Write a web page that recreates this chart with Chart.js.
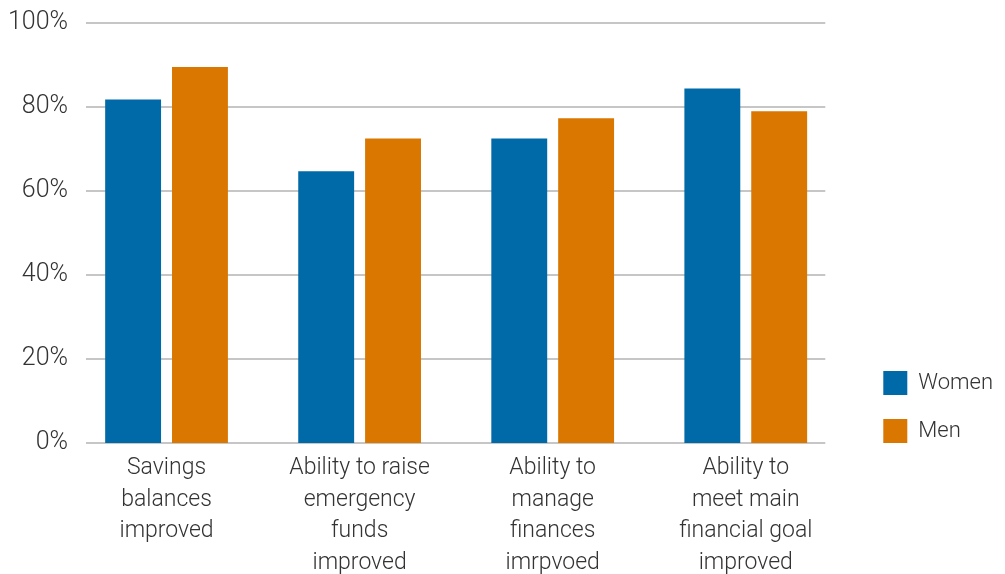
<!DOCTYPE html>
<html>
<head>
<meta charset="utf-8">
<script src="https://cdn.jsdelivr.net/npm/chart.js@4/dist/chart.umd.min.js"></script>
<style>
  body { margin: 0; background: #fff; }
  #wrap { width: 1005px; height: 574px; }
</style>
</head>
<body>
<div id="wrap"><canvas id="myChart"></canvas></div>
<script>
// categories and share of respondents (%)
var categories = [
  ["Savings", "balances", "improved"],
  ["Ability to raise", "emergency", "funds", "improved"],
  ["Ability to", "manage", "finances", "imrpvoed"],
  ["Ability to", "meet main", "financial goal", "improved"]
];
var women = [81.8, 64.7, 72.5, 84.4];
var men = [89.5, 72.5, 77.3, 79.0];
var yTicks = [0, 20, 40, 60, 80, 100];

var textColor = "#333333";
var fontFamily = "Roboto, 'Liberation Sans', sans-serif";

// horizontal grid lines, drawn a little inside the plot area
var gridLines = {
  id: "gridLines",
  beforeDatasetsDraw: function (chart) {
    var ctx = chart.ctx;
    var area = chart.chartArea;
    var y = chart.scales.y;
    ctx.save();
    ctx.strokeStyle = "#c6c6c6";
    ctx.lineWidth = 2;
    yTicks.forEach(function (v) {
      var py = Math.round(y.getPixelForValue(v));
      ctx.beginPath();
      ctx.moveTo(area.left + 16, py);
      ctx.lineTo(area.right - 17, py);
      ctx.stroke();
    });
    ctx.restore();
  }
};

// push the legend down so its last box lines up with the baseline
var legendShift = {
  id: "legendShift",
  afterLayout: function (chart) {
    var pad = chart.options.plugins.legend.labels.padding;
    chart.legend.top += pad;
    chart.legend.bottom += pad;
  }
};

new Chart("myChart", {
  type: "bar",
  data: {
    labels: categories,
    datasets: [
      { label: "Women", data: women, backgroundColor: "#0069a7" },
      { label: "Men", data: men, backgroundColor: "#d97700" }
    ]
  },
  options: {
    responsive: true,
    maintainAspectRatio: false,
    animation: false,
    events: [],
    layout: { padding: { top: 23, left: 8, right: 2, bottom: 0 } },
    datasets: {
      bar: { categoryPercentage: 0.6925, barPercentage: 0.836 }
    },
    scales: {
      x: {
        grid: { display: false, drawTicks: false },
        border: { display: false },
        ticks: {
          color: textColor,
          font: { family: fontFamily, size: 23, weight: 300, lineHeight: 1.37 },
          padding: 9.5,
          maxRotation: 0,
          autoSkip: false
        },
        afterFit: function (s) { s.height = 131; }
      },
      y: {
        min: 0,
        max: 100,
        grid: { display: false, drawTicks: false },
        border: { display: false },
        afterBuildTicks: function (s) {
          s.ticks = yTicks.map(function (v) { return { value: v }; });
        },
        ticks: {
          color: textColor,
          font: { family: fontFamily, size: 25, weight: 300 },
          padding: 2,
          callback: function (v) { return v + "%"; }
        },
        afterFit: function (s) { s.width = 62; }
      },
      spacer: {
        type: "linear",
        position: "right",
        display: true,
        grid: { display: false, drawTicks: false },
        border: { display: false },
        ticks: { display: false },
        afterFit: function (s) { s.width = 17; }
      }
    },
    plugins: {
      tooltip: { enabled: false },
      legend: {
        position: "right",
        align: "end",
        fullSize: false,
        labels: {
          color: textColor,
          font: { family: fontFamily, size: 22, weight: 300 },
          boxWidth: 24,
          boxHeight: 24,
          padding: 24
        }
      }
    }
  },
  plugins: [gridLines, legendShift]
});
</script>
</body>
</html>
